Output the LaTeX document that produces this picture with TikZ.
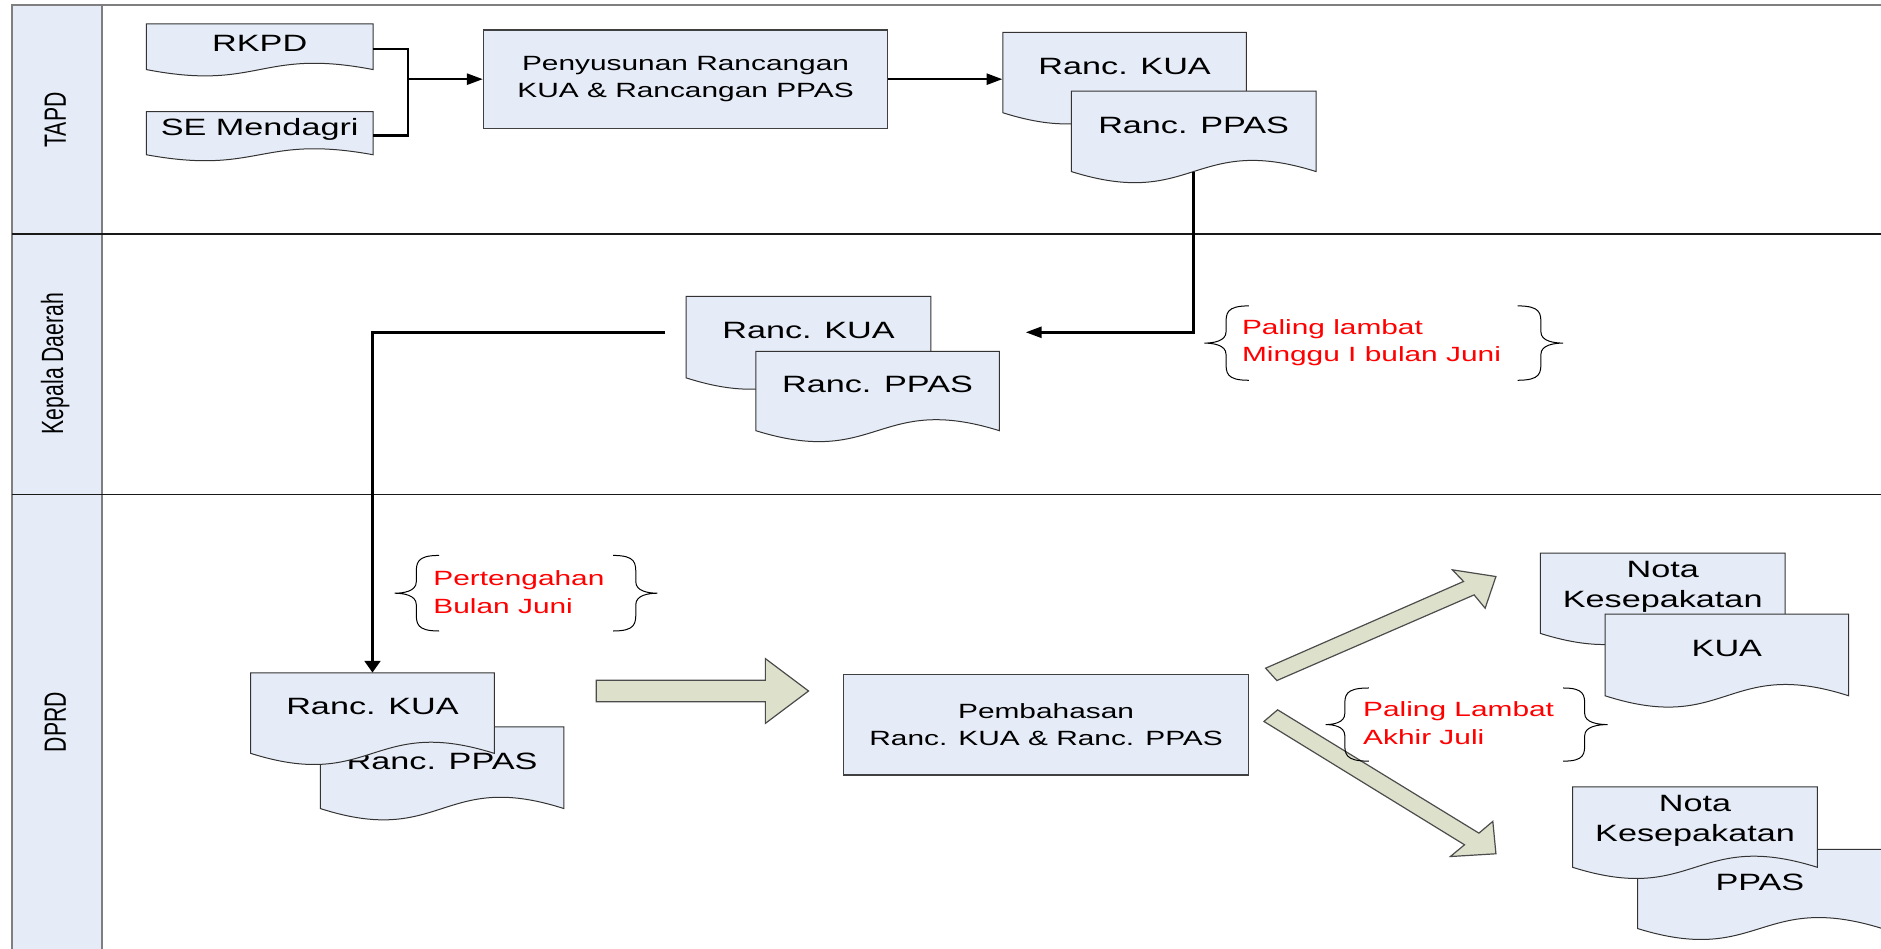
\documentclass[tikz,border=0pt]{standalone}
\usepackage{fontspec}
\usepackage{graphicx}
\setmainfont[FakeStretch=1.45]{Liberation Sans}
\newfontfamily\lanefont{Liberation Sans}
\usetikzlibrary{arrows.meta}

\definecolor{docfill}{HTML}{E6ECF7}
\definecolor{blockfill}{HTML}{DDE1CB}
\definecolor{framegray}{HTML}{7F7F7F}

\tikzset{
  docline/.style={fill=docfill, draw=black!80, line width=0.5pt},
  doctext/.style={inner sep=0pt, align=center, font=\fontsize{11.8}{15.2}\selectfont},
  procbox/.style={draw=black!75, fill=docfill, line width=0.6pt, inner sep=0pt, align=center, font=\fontsize{10.3}{13.5}\selectfont},
  flow/.style={draw=black, line width=1.3pt},
  harrow/.style={flow, -{Triangle[length=8pt,width=5.5pt]}},
  varrow/.style={flow, -{Triangle[length=5.8pt,width=7.8pt]}},
  note/.style={text=red, inner sep=0pt, anchor=west, align=left, font=\fontsize{10.3}{13.8}\selectfont},
  bracestyle/.style={draw=black, line width=0.5pt},
  blockarrow/.style={fill=blockfill, draw=black!70, line width=0.6pt, line join=miter},
  lanelabel/.style={rotate=90, inner sep=0pt, font=\lanefont\fontsize{10.6}{12}\selectfont},
  frameline/.style={draw=framegray, line width=1pt},
  divider/.style={draw=black!90, line width=0.7pt},
}

% document symbol: name, left, top, right, bottom of the sides, text
\newcommand{\docnode}[6]{%
  \pgfmathsetmacro{\dxm}{(#2+#4)/2}%
  \pgfmathsetmacro{\dc}{0.48*(#5-#3)}%
  \pgfmathsetmacro{\dty}{#3+0.42*(#5-#3)}%
  \pgfmathsetmacro{\dw}{0.6*(#4-#2)}%
  \pgfmathsetmacro{\dh}{0.6*0.84*(#5-#3)}%
  \filldraw[docline] (#2,#3) -- (#4,#3) -- (#4,#5)
     .. controls ({\dxm},{#5-\dc}) and ({\dxm},{#5+\dc}) .. (#2,#5) -- cycle;
  \node[doctext, minimum width=\dw pt, minimum height=\dh pt] (#1) at (\dxm,\dty) {#6};
  \coordinate (#1-wave) at (\dxm,#5);
}

% curly brace: tip x, middle y, half height, stem offset, arm offset
\newcommand{\curly}[5]{%
  \draw[bracestyle] ({#1+(#5)},{#2-#3})
    .. controls ({#1+(#4)},{#2-#3}) and ({#1+(#4)},{#2-0.8*#3}) .. ({#1+(#4)},{#2-0.5*#3})
    -- ({#1+(#4)},{#2-0.3*#3})
    .. controls ({#1+(#4)},{#2-0.05*#3}) and ({#1+0.4*(#4)},{#2}) .. ({#1},{#2})
    .. controls ({#1+0.4*(#4)},{#2}) and ({#1+(#4)},{#2+0.05*#3}) .. ({#1+(#4)},{#2+0.3*#3})
    -- ({#1+(#4)},{#2+0.5*#3})
    .. controls ({#1+(#4)},{#2+0.8*#3}) and ({#1+(#4)},{#2+#3}) .. ({#1+(#5)},{#2+#3});
}

\begin{document}
\begin{tikzpicture}[x=0.6pt, y=-0.6pt]
\useasboundingbox (0,0) rectangle (1568,791);
\fill[white] (0,0) rectangle (1568,791);

% swimlanes
\fill[docfill] (10,4.5) rectangle (85,791);
\draw[frameline] (10,791) -- (10,4.5) -- (1568,4.5);
\draw[frameline] (85,4.5) -- (85,791);
\draw[divider] (10,195) -- (1568,195);
\draw[divider] (10,412) -- (1568,412);
\node[lanelabel] (lane-tapd) at (46,100) {\scalebox{1}[1.45]{TAPD}};
\node[lanelabel] (lane-kd) at (46,303) {\scalebox{1}[1.45]{Kepala Daerah}};
\node[lanelabel] (lane-dprd) at (46,602) {\scalebox{1}[1.45]{DPRD}};

% TAPD
\docnode{rkpd}{122}{20}{311}{58}{RKPD}
\docnode{se}{122}{93}{311}{129}{SE Mendagri}
\node[procbox, minimum width=202.2pt, minimum height=49.2pt] (penyusunan) at (571.5,66)
  {Penyusunan Rancangan\\KUA \& Rancangan PPAS};
\docnode{kua1}{836}{27}{1039}{94}{Ranc. KUA}
\docnode{ppas1}{893}{76}{1097}{143}{Ranc. PPAS}

% Kepala Daerah
\docnode{kua2}{572}{247}{776}{315}{Ranc. KUA}
\docnode{ppas2}{630}{293}{833}{359}{Ranc. PPAS}

% DPRD
\docnode{ppas3}{267}{606}{470}{674}{Ranc. PPAS}
\docnode{kua3}{209}{561}{412}{628}{Ranc. KUA}
\node[procbox, minimum width=202.8pt, minimum height=50.4pt] (pembahasan) at (872,604)
  {Pembahasan\\Ranc. KUA \& Ranc. PPAS};
\docnode{nota1}{1284}{461}{1488}{528}{Nota\\Kesepakatan}
\docnode{kua4}{1338}{512}{1541}{580}{KUA}
\docnode{ppas4}{1365}{708}{1569}{774}{PPAS}
\docnode{nota2}{1311}{656}{1515}{723}{Nota\\Kesepakatan}

% connectors
\coordinate (join) at (340,66);
\draw[flow] ([yshift=-3pt]rkpd.east) -| (join);
\draw[flow] ([yshift=-3pt]se.east) -| (join);
\draw[harrow] (join) -- (penyusunan.west);
\draw[harrow] (penyusunan.east) -- (penyusunan.east -| kua1.west);
\coordinate (kdin) at (855,277);
\draw[harrow] (ppas1-wave) |- (kdin);
\coordinate (kdout) at (554,277);
\draw[varrow] (kdout) -| (kua3.north);

% block arrows
\filldraw[blockarrow] (497,567) -- (638,567) -- (638,549) -- (674,576)
  -- (638,603) -- (638,585) -- (497,585) -- cycle;
\filldraw[blockarrow] (1055,557) -- (1220,484.7) -- (1210.7,475) -- (1247,480.6)
  -- (1238,507) -- (1228.8,495.9) -- (1064.4,567.3) -- cycle;
\filldraw[blockarrow] (1065,591.7) -- (1232.8,694.5) -- (1244.4,684.7) -- (1247,711.7)
  -- (1209,714) -- (1220.8,704.2) -- (1053.6,601.4) -- cycle;

% deadlines
\curly{1004}{286}{31}{18}{37}
\curly{1303}{286}{31}{-18.5}{-38}
\node[note] (deadline-kd) at (1035,285.5) {Paling lambat\\Minggu I bulan Juni};
\curly{329}{494.5}{31.5}{18}{37}
\curly{548}{494.5}{31.5}{-18}{-37}
\node[note] (deadline-dprd) at (361,493.8) {Pertengahan\\Bulan Juni};
\curly{1105}{604}{30.5}{16}{36}
\curly{1340}{604}{30.5}{-19}{-37}
\node[note] (deadline-nota) at (1136,603) {Paling Lambat\\Akhir Juli};
\end{tikzpicture}
\end{document}
